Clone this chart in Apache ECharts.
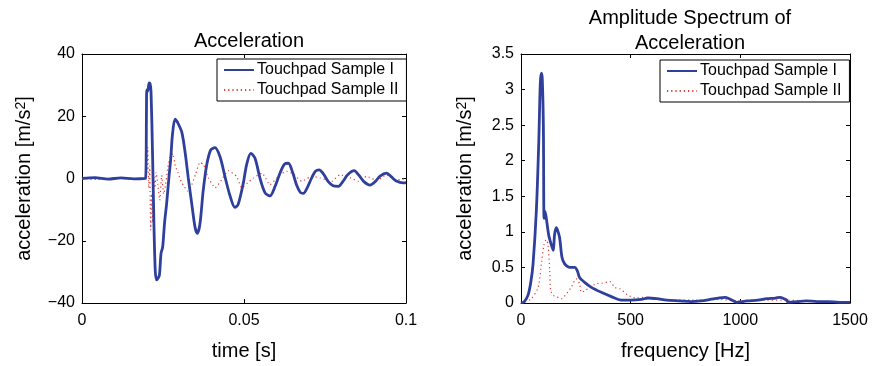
<!DOCTYPE html>
<html>
<head>
<meta charset="utf-8">
<script src="https://cdn.jsdelivr.net/npm/echarts@6/dist/echarts.min.js"></script>
<style>
  html, body { margin: 0; padding: 0; background: #fff; }
  #chart { width: 876px; height: 366px; }
</style>
</head>
<body>
<div id="chart"></div>
<script>
// time-domain signal, Touchpad Sample I  [t (s), acceleration]
const timeSample1 = [
  [0, 0], [0.004, 0.3], [0.008, -0.2], [0.012, 0.2], [0.016, -0.1], [0.0196, 0],
  [0.0199, 22], [0.0200, 28.5], [0.0203, 28], [0.0207, 30.7], [0.0210, 30.5], [0.0213, 28],
  [0.0218, 6.5], [0.0222, -14.6], [0.0226, -29.4], [0.0230, -32.6], [0.0235, -32], [0.0239, -31],
  [0.0244, -24], [0.0249, -22], [0.0255, -14], [0.0261, -8.3], [0.0268, 0], [0.0274, 6.5],
  [0.0279, 13.9], [0.0287, 19.1], [0.0292, 18.5], [0.0297, 17.6], [0.0308, 14.9], [0.0318, 8.6],
  [0.0328, 0.2], [0.0339, -8.3], [0.0349, -15.7], [0.0356, -17.6], [0.0364, -14.6], [0.0374, -4],
  [0.0385, 4.4], [0.0397, 9.1], [0.0410, 9.9], [0.0426, 7], [0.0441, 0.7], [0.0457, -5.6],
  [0.0472, -9.3], [0.0482, -8.3], [0.0498, -1.4], [0.0508, 4.4], [0.0521, 8.1], [0.0534, 6.5],
  [0.0549, 0.2], [0.0565, -4.6], [0.0580, -5.6], [0.0596, -2.5], [0.0611, 1.7], [0.0625, 4.6],
  [0.0637, 4.9], [0.0650, 2], [0.0662, -2], [0.0674, -4.5], [0.0683, -4.8], [0.0695, -3],
  [0.0708, 0], [0.0720, 2.3], [0.0732, 2.8], [0.0745, 1.5], [0.0760, -1], [0.0775, -2.3],
  [0.0791, -2.5], [0.0805, -1], [0.0820, 1.2], [0.0840, 2.5], [0.0855, 1], [0.0870, -1],
  [0.0889, -2.1], [0.0905, -1], [0.0920, 0.8], [0.0940, 1.7], [0.0955, 0.5], [0.0970, -0.8],
  [0.0991, -1.4], [0.1, -1.3]
]

// time-domain signal, Touchpad Sample II
const timeSample2 = [
  [0, 0], [0.005, -0.3], [0.010, 0.2], [0.015, -0.2], [0.0195, 0], [0.0198, 18],
  [0.0200, 2], [0.0203, 10], [0.0206, -3], [0.0209, 4], [0.0212, -16.5], [0.0215, -5],
  [0.0218, -14], [0.0221, 1], [0.0225, -3], [0.0229, 2], [0.0234, -2], [0.0240, -7],
  [0.0246, 1], [0.0252, -5], [0.0258, -2], [0.0264, 3], [0.0272, 7], [0.0280, 8],
  [0.0288, 4], [0.0296, 2], [0.0306, -1], [0.0315, -2.5], [0.0325, -4], [0.0335, -3],
  [0.0350, 1.2], [0.0364, 5.2], [0.0375, 4.5], [0.0390, 0.2], [0.0411, -3], [0.0431, -0.4],
  [0.0451, 2.5], [0.0477, 0.7], [0.0493, -3], [0.0510, -1.5], [0.0529, 0.2], [0.0556, 1.7],
  [0.0580, -2], [0.0611, 1.2], [0.0632, 2.3], [0.0652, 1.5], [0.0678, -0.9], [0.0709, 0.7],
  [0.0735, 0.2], [0.0771, -0.9], [0.0796, 1.2], [0.0827, 0.3], [0.0853, -0.9], [0.0879, 0.7],
  [0.0910, -0.7], [0.0940, 1.2], [0.0971, -0.5], [0.1, 0]
]

// amplitude spectrum, Touchpad Sample I  [f (Hz), amplitude]
const specSample1 = [
  [0, 0], [15, 0.02], [32, 0.11], [45, 0.3], [55, 0.55], [70, 1.3], [81, 2.26], [88, 3.09],
  [93, 3.23], [97, 3.15], [102, 2.49], [105, 1.19], [109, 1.29], [115, 1.2], [126, 0.96],
  [138, 0.82], [147, 0.74], [153, 0.96], [161, 1.06], [167, 1.02], [176, 0.92], [187, 0.64],
  [199, 0.55], [214, 0.51], [230, 0.5], [245, 0.5], [257, 0.45], [267, 0.36], [290, 0.29],
  [321, 0.22], [366, 0.15], [412, 0.09], [457, 0.04], [500, 0.04], [549, 0.05], [579, 0.07],
  [620, 0.06], [664, 0.04], [720, 0.03], [776, 0.02], [820, 0.03], [862, 0.05], [900, 0.07],
  [930, 0.08], [950, 0.06], [968, 0.03], [983, 0.01], [1030, 0.03], [1080, 0.04], [1120, 0.06],
  [1160, 0.07], [1181, 0.08], [1200, 0.06], [1211, 0.04], [1218, 0.01], [1260, 0.02],
  [1300, 0.03], [1350, 0.02], [1400, 0.02], [1450, 0.01], [1500, 0.01]
]

// amplitude spectrum, Touchpad Sample II
const specSample2 = [
  [0, 0], [14, 0.01], [47, 0.06], [78, 0.22], [93, 0.55], [105, 0.82], [115, 0.89], [123, 0.82],
  [131, 0.45], [135, 0.18], [146, 0.11], [161, 0.09], [184, 0.06], [207, 0.13], [229, 0.22],
  [252, 0.34], [267, 0.27], [275, 0.15], [290, 0.17], [313, 0.22], [343, 0.27], [370, 0.28],
  [406, 0.3], [427, 0.22], [451, 0.2], [488, 0.11], [526, 0.07], [560, 0.08], [620, 0.05],
  [700, 0.04], [800, 0.04], [900, 0.05], [1000, 0.03], [1100, 0.04], [1200, 0.04],
  [1300, 0.03], [1400, 0.02], [1500, 0.02]
]

const legendNames = ['Touchpad Sample I', 'Touchpad Sample II']
const timeTicks = { min: 0, max: 0.1, interval: 0.05 }
const accTicks = { min: -40, max: 40, interval: 20 }
const freqTicks = { min: 0, max: 1500, interval: 500 }
const specTicks = { min: 0, max: 3.5, interval: 0.5 }

const FONT = 'Liberation Sans'
const BLUE = '#2f3f9c'
const RED = '#e4392f'
const DOTS = [1.2, 3]

const chart = echarts.init(document.getElementById('chart'))

// matlab style labels: plain numbers, real minus sign
const plain = v => String(v).replace('-', '\u2212')

const nameStyle = {
  color: '#000',
  fontFamily: FONT,
  fontSize: 20,
  rich: {
    sup: { fontSize: 14, verticalAlign: 'top', color: '#000', fontFamily: FONT, lineHeight: 12 }
  }
}

const baseAxis = (ticks, gridIndex, position, showLabel, extra) => Object.assign({
  type: 'value',
  gridIndex: gridIndex,
  position: position,
  min: ticks.min,
  max: ticks.max,
  interval: ticks.interval,
  axisLine: { show: true, onZero: false, lineStyle: { color: '#000', width: 1 } },
  axisTick: { show: true, inside: true, length: 4, lineStyle: { color: '#000' } },
  axisLabel: {
    show: showLabel,
    color: '#000',
    fontFamily: FONT,
    fontSize: 16,
    margin: position === 'bottom' ? 10 : 7,
    formatter: plain
  },
  splitLine: { show: false },
  nameTextStyle: nameStyle
}, extra || {})

const legendBox = (left, top) => ({
  orient: 'vertical',
  left: left,
  top: top,
  data: legendNames,
  itemWidth: 30,
  itemHeight: 14,
  itemGap: 4,
  padding: [3, 8, 3, 6],
  backgroundColor: '#fff',
  borderColor: '#000',
  borderWidth: 1,
  itemStyle: { opacity: 0 },
  textStyle: { fontFamily: FONT, fontSize: 16, color: '#000', padding: [0, 0, 0, -2] }
})

const option = {
  animation: false,
  backgroundColor: '#fff',
  title: [
    {
      text: 'Acceleration',
      left: 244, top: 26, textAlign: 'center',
      textStyle: { fontFamily: FONT, fontSize: 20, fontWeight: 'normal', color: '#000' }
    },
    {
      text: 'Amplitude Spectrum of\nAcceleration',
      left: 685, top: 1, textAlign: 'center',
      textStyle: { fontFamily: FONT, fontSize: 20, fontWeight: 'normal', color: '#000', lineHeight: 25 }
    }
  ],
  legend: [legendBox(217, 59), legendBox(660, 60)],
  grid: [
    { left: 82, right: 470, top: 54, bottom: 60 },
    { left: 521, right: 26, top: 54, bottom: 60 }
  ],
  xAxis: [
    baseAxis(timeTicks, 0, 'bottom', true, { name: 'time [s]', nameLocation: 'middle', nameGap: 38 }),
    baseAxis(freqTicks, 1, 'bottom', true, { name: 'frequency [Hz]', nameLocation: 'middle', nameGap: 38 }),
    baseAxis(timeTicks, 0, 'top', false),
    baseAxis(freqTicks, 1, 'top', false)
  ],
  yAxis: [
    baseAxis(accTicks, 0, 'left', true, { name: 'acceleration [m/s{sup|2}]', nameLocation: 'middle', nameGap: 48 }),
    baseAxis(specTicks, 1, 'left', true, { name: 'acceleration [m/s{sup|2}]', nameLocation: 'middle', nameGap: 46 }),
    baseAxis(accTicks, 0, 'right', false),
    baseAxis(specTicks, 1, 'right', false)
  ],
  series: [
    {
      name: legendNames[0], type: 'line', xAxisIndex: 0, yAxisIndex: 0,
      data: timeSample1, showSymbol: false, symbol: 'none', smooth: 0.3, z: 3,
      lineStyle: { color: BLUE, width: 2.8 }, itemStyle: { color: BLUE }
    },
    {
      name: legendNames[1], type: 'line', xAxisIndex: 0, yAxisIndex: 0,
      data: timeSample2, showSymbol: false, symbol: 'none', smooth: 0.15, z: 2,
      lineStyle: { color: RED, width: 1.2, type: DOTS }, itemStyle: { color: RED }
    },
    {
      name: legendNames[0], type: 'line', xAxisIndex: 1, yAxisIndex: 1,
      data: specSample1, showSymbol: false, symbol: 'none', smooth: 0.3, z: 3,
      lineStyle: { color: BLUE, width: 2.8 }, itemStyle: { color: BLUE }
    },
    {
      name: legendNames[1], type: 'line', xAxisIndex: 1, yAxisIndex: 1,
      data: specSample2, showSymbol: false, symbol: 'none', smooth: 0.3, z: 2,
      lineStyle: { color: RED, width: 1.2, type: DOTS }, itemStyle: { color: RED }
    }
  ]
}

chart.setOption(option)
</script>
</body>
</html>
